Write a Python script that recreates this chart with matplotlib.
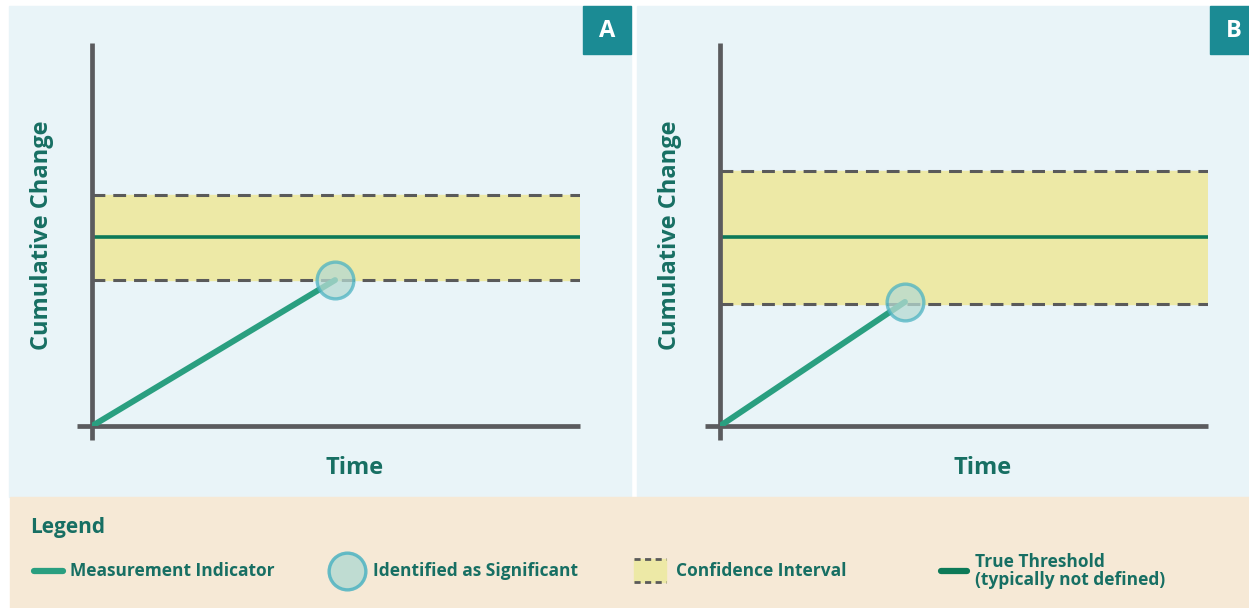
import matplotlib.pyplot as plt
from matplotlib.patches import Rectangle
from matplotlib import font_manager

W, H = 1249, 608

# panel data (axis units, 0..10 on both axes)
panels = ['A', 'B']
threshold = [4.93, 4.93]
ci_low = [3.81, 3.19]
ci_high = [6.03, 6.66]
meas_x = [[0, 4.98], [0, 3.79]]
meas_y = [[0, 3.81], [0, 3.24]]

legend_labels = ['Measurement Indicator', 'Identified as Significant',
                 'Confidence Interval', 'True Threshold\n(typically not defined)']

panel_bg = '#e9f4f8'
legend_bg = '#f6e9d6'
teal_box = '#1b8b94'
text_col = '#176f63'
meas_col = '#2a9f80'
thr_col = '#0d7a58'
band_col = '#ede9a6'
axis_col = '#5b5b5e'
dash_col = '#5a5a5a'
circ_face = '#b6dad2'
circ_edge = '#4db3c2'

names = {f.name for f in font_manager.fontManager.ttflist}
narrow = 'Liberation Sans Narrow' if 'Liberation Sans Narrow' in names else 'Open Sans'
label_font = 'Open Sans'


def fx(px):
    return px / W


def fy(py):
    return 1 - py / H


fig = plt.figure(figsize=(W / 100, H / 100), dpi=100)
fig.patch.set_facecolor('white')

# backgrounds, kept underneath the axes
for x0, w, y0, h in [(9, 622, 497, 491), (637, 612, 497, 491)]:
    fig.patches.append(Rectangle((fx(x0), fy(y0)), fx(w), h / H,
                                 transform=fig.transFigure, color=panel_bg, zorder=-2))
fig.patches.append(Rectangle((fx(10), 0), fx(1239), fy(497),
                             transform=fig.transFigure, color=legend_bg, zorder=-2))

ax_left = [92, 720]
box_left = [583, 1210]
for i, name in enumerate(panels):
    x0 = ax_left[i]
    ax = fig.add_axes([fx(x0), fy(426), fx(488), fy(43) - fy(426)])
    ax.set_xlim(0, 10)
    ax.set_ylim(0, 10)
    ax.axis('off')

    ax.axhspan(ci_low[i], ci_high[i], color=band_col, zorder=1)
    for yv in (ci_low[i], ci_high[i]):
        ax.axhline(yv, color=dash_col, lw=2.2, dashes=(4.2, 2.6), zorder=2)
    ax.axhline(threshold[i], color=thr_col, lw=2.6, zorder=3)

    # axes drawn as crossing lines
    ax.plot([-0.31, 10], [0, 0], color=axis_col, lw=3.4, clip_on=False,
            solid_capstyle='butt', zorder=4)
    ax.plot([0, 0], [-0.37, 10], color=axis_col, lw=3.4, clip_on=False,
            solid_capstyle='butt', zorder=4)

    ax.plot(meas_x[i], meas_y[i], color=meas_col, lw=4.3,
            solid_capstyle='round', zorder=5)
    ax.scatter([meas_x[i][-1]], [meas_y[i][-1]], s=700, facecolor=circ_face,
               edgecolor=circ_edge, linewidth=2.4, alpha=0.75, zorder=6,
               clip_on=False)

    fig.text(fx(x0 - 50), fy(235), 'Cumulative Change', rotation=90,
             ha='center', va='center', fontsize=17, fontweight='bold',
             color=text_col, family=label_font)
    fig.text(fx(x0 + 263), fy(468), 'Time', ha='center', va='center',
             fontsize=17, fontweight='bold', color=text_col, family=label_font)

    bx = box_left[i]
    fig.patches.append(Rectangle((fx(bx), fy(54)), fx(48), 48 / H,
                                 transform=fig.transFigure, color=teal_box, zorder=1))
    fig.text(fx(bx + 24), fy(31), name, ha='center', va='center', fontsize=17,
             fontweight='bold', color='white', family=label_font)

# legend row
lg = fig.add_axes([0, 0, 1, fy(497)])
lg.set_xlim(0, W)
lg.set_ylim(H, 497)
lg.axis('off')

fig.text(fx(30), fy(528), 'Legend', ha='left', va='center', fontsize=15,
         fontweight='bold', color=text_col, family=narrow)

ly = 571
lg.plot([34, 63], [ly, ly], color=meas_col, lw=4.5, solid_capstyle='round')
lg.scatter([347], [ly], s=700, facecolor=circ_face, edgecolor=circ_edge,
           linewidth=2.4, alpha=0.85)
lg.add_patch(Rectangle((634, 559), 32, 23, color=band_col, zorder=1))
for yv in (559, 582):
    lg.plot([634, 666], [yv, yv], color=dash_col, lw=2.0, dashes=(2.2, 1.6), zorder=2)
lg.plot([941, 967], [ly, ly], color=thr_col, lw=4.5, solid_capstyle='round')

text_x = [70, 373, 676, 975]
for tx, lab in zip(text_x, legend_labels):
    fig.text(fx(tx), fy(ly), lab, ha='left', va='center', fontsize=12.5,
             fontweight='bold', color=text_col, family=narrow, linespacing=1.05)

fig.savefig('out.png', dpi=100)
